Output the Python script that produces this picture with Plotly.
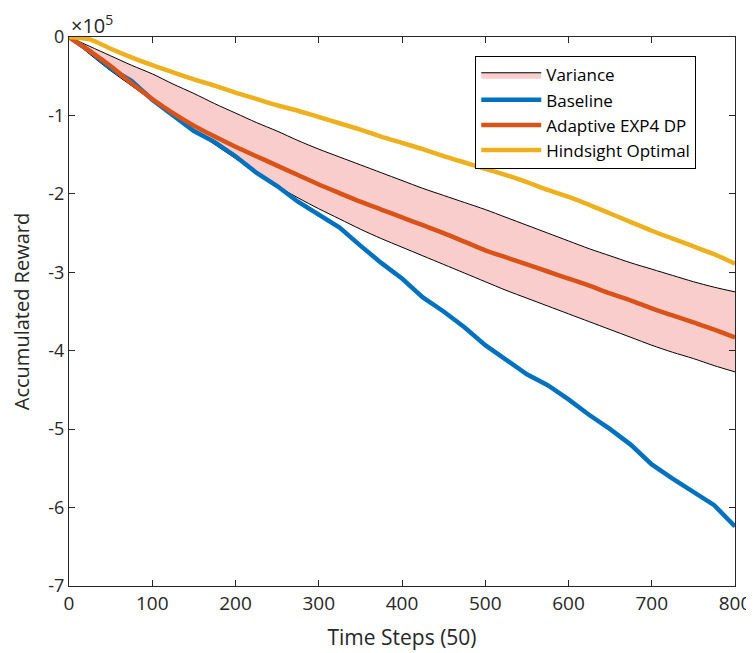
import plotly.graph_objects as go

# x positions (time steps, units of 50)
x_steps = [0, 25, 50, 75, 100, 125, 150, 175, 200, 225, 250, 275, 300, 325, 350, 375,
           400, 425, 450, 475, 500, 525, 550, 575, 600, 625, 650, 675, 700, 725, 750, 775, 800]

# values in units of 1e5
baseline = [0, -0.18, -0.40, -0.56, -0.80, -1.00, -1.20, -1.34, -1.52, -1.73, -1.90, -2.10,
            -2.27, -2.43, -2.66, -2.88, -3.08, -3.32, -3.50, -3.70, -3.93, -4.12, -4.30, -4.44,
            -4.62, -4.82, -5.00, -5.20, -5.45, -5.63, -5.80, -5.97, -6.24]
adaptive = [0, -0.18, -0.37, -0.59, -0.79, -0.97, -1.13, -1.27, -1.40, -1.52, -1.64, -1.76,
            -1.88, -1.99, -2.10, -2.20, -2.30, -2.40, -2.50, -2.61, -2.72, -2.81, -2.90, -2.99,
            -3.08, -3.17, -3.27, -3.36, -3.46, -3.55, -3.64, -3.73, -3.83]
hindsight = [0, -0.03, -0.15, -0.26, -0.36, -0.45, -0.54, -0.62, -0.71, -0.79, -0.87, -0.94,
             -1.02, -1.10, -1.18, -1.27, -1.35, -1.43, -1.52, -1.60, -1.68, -1.76, -1.85, -1.95,
             -2.04, -2.14, -2.25, -2.36, -2.47, -2.57, -2.67, -2.77, -2.89]
var_upper = [0, -0.12, -0.24, -0.36, -0.47, -0.60, -0.72, -0.85, -0.97, -1.09, -1.20, -1.32,
             -1.43, -1.53, -1.63, -1.73, -1.83, -1.93, -2.02, -2.11, -2.20, -2.30, -2.40, -2.50,
             -2.60, -2.70, -2.79, -2.88, -2.96, -3.04, -3.12, -3.19, -3.25]
var_lower = [0, -0.22, -0.43, -0.62, -0.81, -1.00, -1.19, -1.37, -1.55, -1.73, -1.90, -2.05,
             -2.19, -2.32, -2.45, -2.57, -2.68, -2.79, -2.90, -3.01, -3.12, -3.23, -3.33, -3.43,
             -3.53, -3.63, -3.73, -3.83, -3.93, -4.02, -4.10, -4.19, -4.27]

x_ticks = [0, 100, 200, 300, 400, 500, 600, 700, 800]
y_ticks = [0, -1, -2, -3, -4, -5, -6, -7]
y_ticklabels = ["0", "-1", "-2", "-3", "-4", "-5", "-6", "-7"]

FONT = "Open Sans"
AX = "#262626"

fig = go.Figure()
fig.add_trace(go.Scatter(x=x_steps, y=var_lower, mode="lines",
                         line=dict(color="black", width=1, shape="spline", smoothing=0.8),
                         showlegend=False, hoverinfo="skip"))
fig.add_trace(go.Scatter(x=x_steps, y=var_upper, mode="lines", name="Variance",
                         line=dict(color="black", width=1, shape="spline", smoothing=0.8),
                         fill="tonexty", fillcolor="rgba(250,205,205,1)"))
fig.add_trace(go.Scatter(x=x_steps, y=baseline, mode="lines", name="Baseline",
                         line=dict(color="#0072BD", width=4.5)))
fig.add_trace(go.Scatter(x=x_steps, y=adaptive, mode="lines", name="Adaptive EXP4 DP",
                         line=dict(color="#D95319", width=4.5, shape="spline", smoothing=0.6)))
fig.add_trace(go.Scatter(x=x_steps, y=hindsight, mode="lines", name="Hindsight Optimal",
                         line=dict(color="#EDB120", width=4.5, shape="spline", smoothing=0.6)))

axis_common = dict(showline=True, linecolor=AX, linewidth=1.3, mirror="ticks",
                   ticks="inside", ticklen=6, tickcolor=AX, tickwidth=1,
                   showgrid=False, zeroline=False, automargin=False)

fig.update_xaxes(range=[0, 800], tickvals=x_ticks,
                 tickfont=dict(family=FONT, size=19, color=AX),
                 title=dict(text="Time Steps (50)", font=dict(family=FONT, size=21, color=AX)),
                 **axis_common)
fig.update_yaxes(range=[-7, 0], tickvals=y_ticks, ticktext=y_ticklabels,
                 tickfont=dict(family=FONT, size=18, color=AX),
                 title=dict(text="Accumulated Reward", font=dict(family=FONT, size=20, color=AX)),
                 **axis_common)

fig.add_annotation(text="×10<sup>5</sup>", xref="paper", yref="paper", x=0, y=1,
                   xanchor="left", yanchor="bottom", showarrow=False,
                   font=dict(family=FONT, size=20, color=AX), yshift=-4)

# page body adds an 8px offset, so the figure is 8px smaller and margins shifted
fig.update_layout(
    width=746, height=645,
    margin=dict(l=61, r=19, t=29, b=67),
    paper_bgcolor="white", plot_bgcolor="white",
    legend=dict(x=0.61, y=0.965, xanchor="left", yanchor="top",
                bgcolor="white", bordercolor="black", borderwidth=1,
                font=dict(family=FONT, size=17, color="black"),
                itemwidth=60, tracegroupgap=0, traceorder="normal"),
)

fig.write_html("out.html")
